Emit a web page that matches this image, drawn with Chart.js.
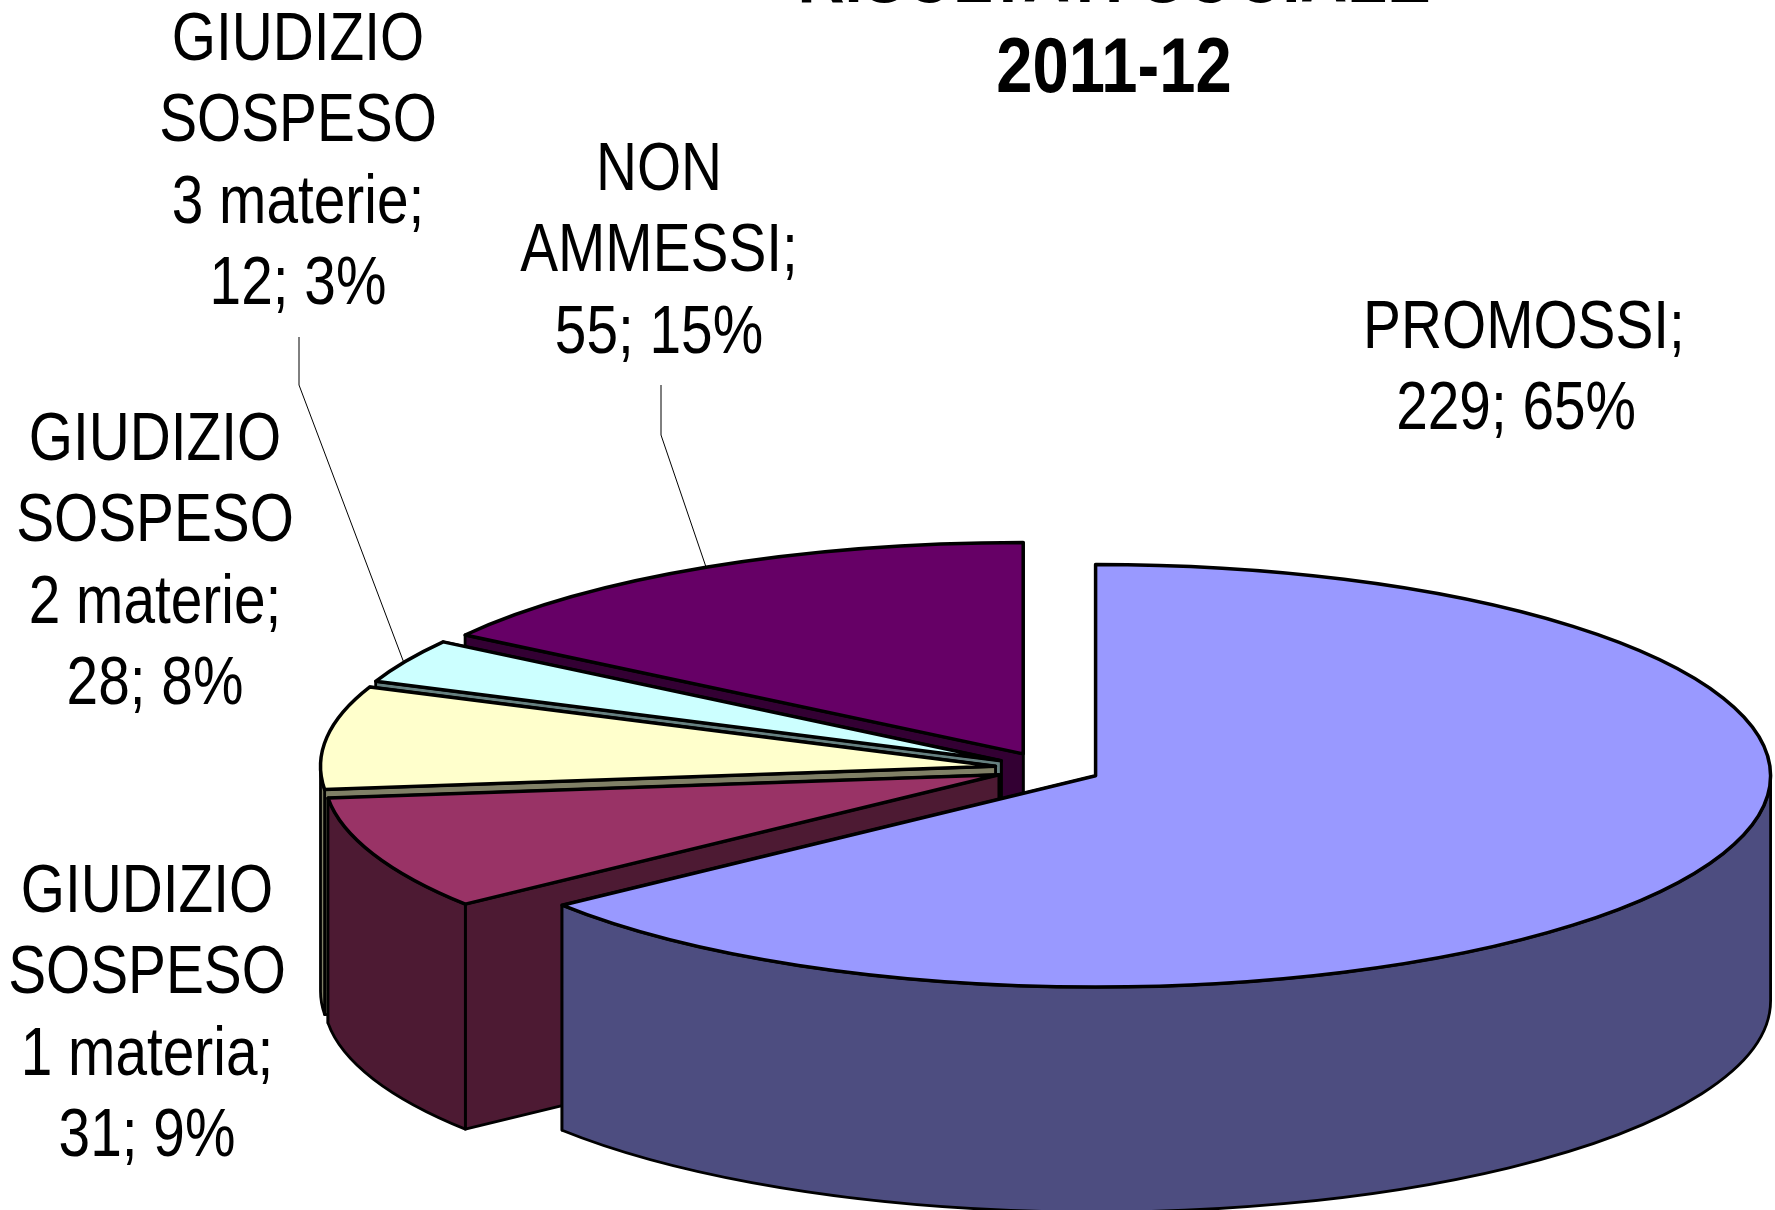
<!DOCTYPE html>
<html>
<head>
<meta charset="utf-8">
<style>
  html, body { margin: 0; padding: 0; background: #fff; overflow: hidden; }
  #chart-box { position: relative; width: 1775px; height: 1210px; }
</style>
<script src="https://cdn.jsdelivr.net/npm/chart.js@4/dist/chart.umd.min.js"></script>
</head>
<body>
<div id="chart-box"><canvas id="esiti-chart"></canvas></div>
<script>
const categories = ['PROMOSSI', 'GIUDIZIO SOSPESO 1 materia', 'GIUDIZIO SOSPESO 2 materie', 'GIUDIZIO SOSPESO 3 materie', 'NON AMMESSI'];
const studenti = [229, 31, 28, 12, 55];
const percentuali = ['65%', '9%', '8%', '3%', '15%'];
const titleLines = ['RISULTATI SOCIALE', '2011-12'];

const topColors = ['#9999ff', '#993366', '#ffffcc', '#ccffff', '#660066'];
const sideColors = ['#4d4d80', '#4d1a33', '#808066', '#668080', '#330033'];

// each label is wrapped by hand, same as in the original slide
const labelLines = [
    ['PROMOSSI;', studenti[0] + '; ' + percentuali[0] + ' '],
    ['GIUDIZIO', 'SOSPESO', '1 materia;', studenti[1] + '; ' + percentuali[1]],
    ['GIUDIZIO', 'SOSPESO', '2 materie;', studenti[2] + '; ' + percentuali[2]],
    ['GIUDIZIO', 'SOSPESO', '3 materie;', studenti[3] + '; ' + percentuali[3]],
    ['NON', 'AMMESSI;', studenti[4] + '; ' + percentuali[4]]
];
const labelAnchors = [[1524, 329], [147, 893], [155, 441], [298, 41], [659, 171]];
const leaderLines = [
    [[299, 337], [299, 385], [404, 663]],
    [[661, 385], [661, 435], [706, 567]]
];

const RADIUS = 675;
const SQUASH = 0.313;
const DEPTH = 225;
const EXPLODE = 53;
const NARROW = 0.835; // no Arial Narrow here, so the sans is squeezed by hand
const LABEL_FONT = '68px "Liberation Sans"';
const TITLE_FONT = 'bold 78px "Liberation Sans"';
const LINE_HEIGHT = 81.5;

function narrowText(ctx, text, x, y) {
    ctx.save();
    ctx.translate(x, y);
    ctx.scale(NARROW, 1);
    ctx.fillText(text, 0, 0);
    ctx.restore();
}

const pie3d = {
    id: 'pie3d',
    beforeDatasetDraw(chart, args) {
        const ctx = chart.ctx;
        const arcs = args.meta.data;
        // back to front, so the nearer slices cover the walls behind them
        for (let i = arcs.length - 1; i >= 0; i--) {
            drawSlice(ctx, arcs[i], i);
        }
        return false;
    },
    afterDraw(chart) {
        const ctx = chart.ctx;
        ctx.save();
        ctx.strokeStyle = '#000';
        ctx.lineWidth = 1;
        leaderLines.forEach(pts => {
            ctx.beginPath();
            pts.forEach((p, i) => i ? ctx.lineTo(p[0], p[1]) : ctx.moveTo(p[0], p[1]));
            ctx.stroke();
        });
        ctx.fillStyle = '#000';
        ctx.textAlign = 'center';
        ctx.textBaseline = 'middle';
        ctx.font = LABEL_FONT;
        labelLines.forEach((lines, i) => {
            lines.forEach((line, j) => {
                narrowText(ctx, line, labelAnchors[i][0], labelAnchors[i][1] + j * LINE_HEIGHT);
            });
        });
        ctx.font = TITLE_FONT;
        narrowText(ctx, titleLines[0], 1114, -20);
        narrowText(ctx, titleLines[1], 1114, 70);
        ctx.restore();
    }
};

function drawSlice(ctx, arc, i) {
    const mid = (arc.startAngle + arc.endAngle) / 2;
    const cx = arc.x + Math.cos(mid) * EXPLODE;
    const cy = arc.y + Math.sin(mid) * EXPLODE * SQUASH;
    const a0 = arc.startAngle;
    const a1 = arc.endAngle;
    const px = a => cx + Math.cos(a) * RADIUS;
    const py = a => cy + Math.sin(a) * RADIUS * SQUASH;

    ctx.save();
    ctx.lineJoin = 'round';
    ctx.strokeStyle = '#000';
    ctx.lineWidth = 2.8;
    ctx.fillStyle = sideColors[i];

    // straight cut walls, the far one first
    [a1, a0].forEach(a => {
        ctx.beginPath();
        ctx.moveTo(cx, cy);
        ctx.lineTo(px(a), py(a));
        ctx.lineTo(px(a), py(a) + DEPTH);
        ctx.lineTo(cx, cy + DEPTH);
        ctx.closePath();
        ctx.fill();
        ctx.stroke();
    });

    // curved rim, only the part turned to the viewer
    const from = Math.max(a0, 0);
    const to = Math.min(a1, Math.PI);
    if (to > from) {
        ctx.beginPath();
        ctx.ellipse(cx, cy, RADIUS, RADIUS * SQUASH, 0, from, to);
        ctx.ellipse(cx, cy + DEPTH, RADIUS, RADIUS * SQUASH, 0, to, from, true);
        ctx.closePath();
        ctx.fill();
        ctx.stroke();
    }

    // top face comes from the arc element itself, squashed into the ellipse
    ctx.save();
    ctx.translate(cx, cy);
    ctx.scale(1, SQUASH);
    ctx.translate(-arc.x, -arc.y);
    arc.draw(ctx);
    ctx.restore();

    ctx.lineWidth = 3.5;
    ctx.beginPath();
    ctx.moveTo(cx, cy);
    ctx.ellipse(cx, cy, RADIUS, RADIUS * SQUASH, 0, a0, a1);
    ctx.closePath();
    ctx.stroke();
    ctx.restore();
}

new Chart(document.getElementById('esiti-chart'), {
    type: 'pie',
    data: {
        labels: categories,
        datasets: [{
            data: studenti,
            backgroundColor: topColors,
            borderWidth: 0,
            radius: RADIUS
        }]
    },
    options: {
        responsive: true,
        maintainAspectRatio: false,
        animation: false,
        events: [],
        layout: { padding: { left: 321, top: 327 } },
        plugins: {
            legend: { display: false },
            tooltip: { enabled: false }
        }
    },
    plugins: [pie3d]
});
</script>
</body>
</html>
